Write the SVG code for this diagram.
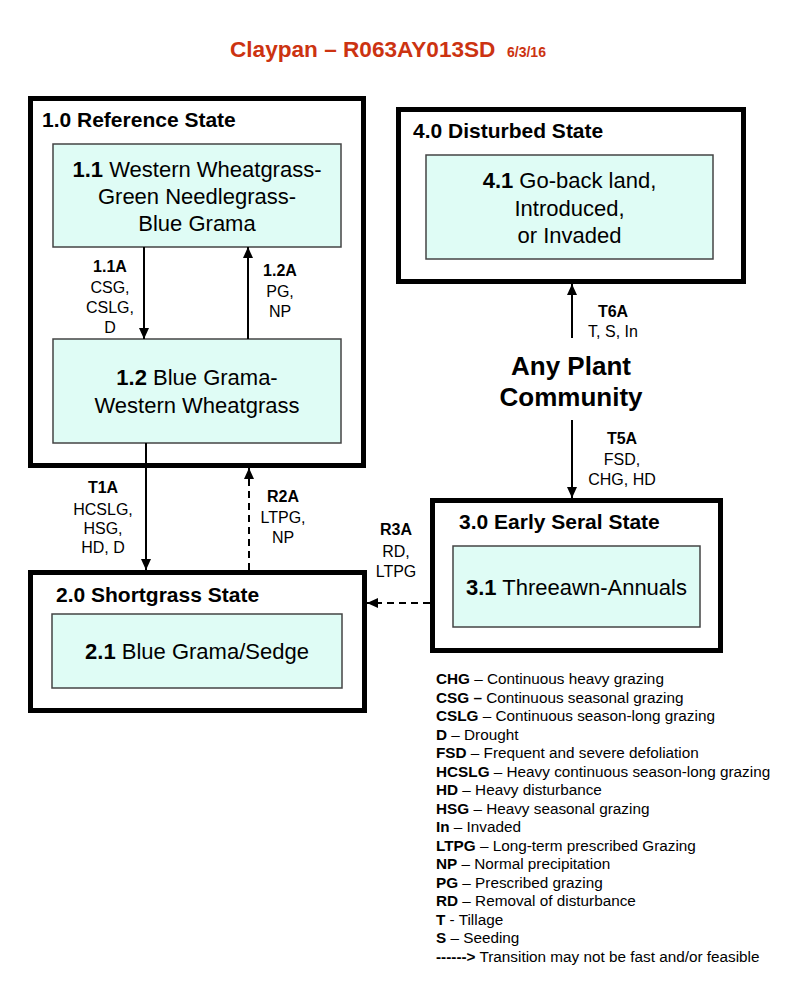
<svg xmlns="http://www.w3.org/2000/svg" width="800" height="992" viewBox="0 0 800 992">
<style>
text{font-family:"Liberation Sans",Arial,sans-serif;fill:#000}
.title{font-size:22.6px;font-weight:bold;fill:#cc3311}
.date{font-size:14px;font-weight:bold;fill:#cc3311}
.state{fill:#fff;stroke:#000;stroke-width:5}
.comm{fill:#dffcf5;stroke:#444;stroke-width:1.5}
.slab{font-size:21px;font-weight:bold}
.ctext{font-size:22px;text-anchor:middle}
.b{font-weight:bold}
.tl{font-size:16px;text-anchor:middle}
.apc{font-size:26px;font-weight:bold;text-anchor:middle}
.leg{font-size:15.3px}
.arr{fill:none;stroke:#000;stroke-width:2}
.dash{stroke-dasharray:7,5}
</style>
<defs>
<marker id="ah" markerUnits="userSpaceOnUse" markerWidth="12" markerHeight="10" refX="11" refY="5" orient="auto">
<path d="M0,0 L11,5 L0,10 z" fill="#000"/>
</marker>
</defs>
<rect width="800" height="992" fill="#fff"/>
<text x="230" y="57" class="title">Claypan – R063AY013SD</text>
<text x="507" y="57" class="date">6/3/16</text>

<g id="state1">
<rect class="state" x="30.5" y="98.5" width="333" height="367"/>
<text x="42" y="127" class="slab">1.0 Reference State</text>
</g>
<g id="comm11">
<rect class="comm" x="53" y="144" width="288" height="103"/>
<text class="ctext" y="177"><tspan x="197"><tspan class="b">1.1</tspan> Western Wheatgrass-</tspan><tspan x="197" y="204">Green Needlegrass-</tspan><tspan x="197" y="231">Blue Grama</tspan></text>
</g>
<g id="comm12">
<rect class="comm" x="53" y="339" width="288" height="104"/>
<text class="ctext" y="385"><tspan x="197"><tspan class="b">1.2</tspan> Blue Grama-</tspan><tspan x="197" y="413">Western Wheatgrass</tspan></text>
</g>

<g id="state4">
<rect class="state" x="398.5" y="109.5" width="345" height="172"/>
<text x="413" y="138" class="slab">4.0 Disturbed State</text>
</g>
<g id="comm41">
<rect class="comm" x="426" y="155" width="287" height="104"/>
<text class="ctext" y="188"><tspan x="569.5"><tspan class="b">4.1</tspan> Go-back land,</tspan><tspan x="569.5" y="216">Introduced,</tspan><tspan x="569.5" y="243">or Invaded</tspan></text>
</g>

<g id="anyplant">
<text class="apc" y="375"><tspan x="571">Any Plant</tspan><tspan x="571" y="406">Community</tspan></text>
</g>

<g id="state2">
<rect class="state" x="30.5" y="572.5" width="334" height="138"/>
<text x="56" y="602" class="slab">2.0 Shortgrass State</text>
</g>
<g id="comm21">
<rect class="comm" x="52" y="614" width="290" height="74"/>
<text class="ctext" x="197" y="659"><tspan class="b">2.1</tspan> Blue Grama/Sedge</text>
</g>

<g id="state3">
<rect class="state" x="432.5" y="500.5" width="288" height="150"/>
<text x="459" y="529" class="slab">3.0 Early Seral State</text>
</g>
<g id="comm31">
<rect class="comm" x="453" y="546" width="247" height="81"/>
<text class="ctext" x="576.5" y="595"><tspan class="b">3.1</tspan> Threeawn-Annuals</text>
</g>

<g id="connectors">
<line class="arr" x1="144" y1="247" x2="144" y2="339" marker-end="url(#ah)"/>
<line class="arr" x1="248" y1="339" x2="248" y2="247" marker-end="url(#ah)"/>
<line class="arr" x1="146" y1="443" x2="146" y2="570" marker-end="url(#ah)"/>
<line class="arr dash" x1="249" y1="570" x2="249" y2="468" marker-end="url(#ah)"/>
<line class="arr" x1="572" y1="338" x2="572" y2="284" marker-end="url(#ah)"/>
<line class="arr" x1="572" y1="420" x2="572" y2="498" marker-end="url(#ah)"/>
<line class="arr dash" x1="430" y1="603" x2="367" y2="603" marker-end="url(#ah)"/>
</g>

<g id="labels">
<text class="tl" y="272"><tspan x="110" class="b">1.1A</tspan><tspan x="110" y="293">CSG,</tspan><tspan x="110" y="313">CSLG,</tspan><tspan x="110" y="333">D</tspan></text>
<text class="tl" y="276"><tspan x="280" class="b">1.2A</tspan><tspan x="280" y="297">PG,</tspan><tspan x="280" y="317">NP</tspan></text>
<text class="tl" y="493"><tspan x="103" class="b">T1A</tspan><tspan x="103" y="515">HCSLG,</tspan><tspan x="103" y="534">HSG,</tspan><tspan x="103" y="553">HD, D</tspan></text>
<text class="tl" y="502"><tspan x="283" class="b">R2A</tspan><tspan x="283" y="523">LTPG,</tspan><tspan x="283" y="543">NP</tspan></text>
<text class="tl" y="535"><tspan x="396" class="b">R3A</tspan><tspan x="396" y="557">RD,</tspan><tspan x="396" y="577">LTPG</tspan></text>
<text class="tl" y="317"><tspan x="613" class="b">T6A</tspan><tspan x="613" y="337">T, S, In</tspan></text>
<text class="tl" y="444"><tspan x="622" class="b">T5A</tspan><tspan x="622" y="465">FSD,</tspan><tspan x="622" y="485">CHG, HD</tspan></text>
</g>

<g id="legend" class="leg">
<text x="436" y="684" class="leg"><tspan class="b">CHG</tspan> – Continuous heavy grazing</text>
<text x="436" y="702.5" class="leg"><tspan class="b">CSG –</tspan> Continuous seasonal grazing</text>
<text x="436" y="721" class="leg"><tspan class="b">CSLG</tspan> – Continuous season-long grazing</text>
<text x="436" y="739.5" class="leg"><tspan class="b">D</tspan> – Drought</text>
<text x="436" y="758" class="leg"><tspan class="b">FSD</tspan> – Frequent and severe defoliation</text>
<text x="436" y="776.5" class="leg"><tspan class="b">HCSLG</tspan> – Heavy continuous season-long grazing</text>
<text x="436" y="795" class="leg"><tspan class="b">HD</tspan> – Heavy disturbance</text>
<text x="436" y="813.5" class="leg"><tspan class="b">HSG</tspan> – Heavy seasonal grazing</text>
<text x="436" y="832" class="leg"><tspan class="b">In</tspan> – Invaded</text>
<text x="436" y="850.5" class="leg"><tspan class="b">LTPG</tspan> – Long-term prescribed Grazing</text>
<text x="436" y="869" class="leg"><tspan class="b">NP</tspan> – Normal precipitation</text>
<text x="436" y="887.5" class="leg"><tspan class="b">PG</tspan> – Prescribed grazing</text>
<text x="436" y="906" class="leg"><tspan class="b">RD</tspan> – Removal of disturbance</text>
<text x="436" y="924.5" class="leg"><tspan class="b">T</tspan> - Tillage</text>
<text x="436" y="943" class="leg"><tspan class="b">S</tspan> – Seeding</text>
<text x="436" y="961.5" class="leg"><tspan class="b">------&gt;</tspan> Transition may not be fast and/or feasible</text>
</g>
</svg>
